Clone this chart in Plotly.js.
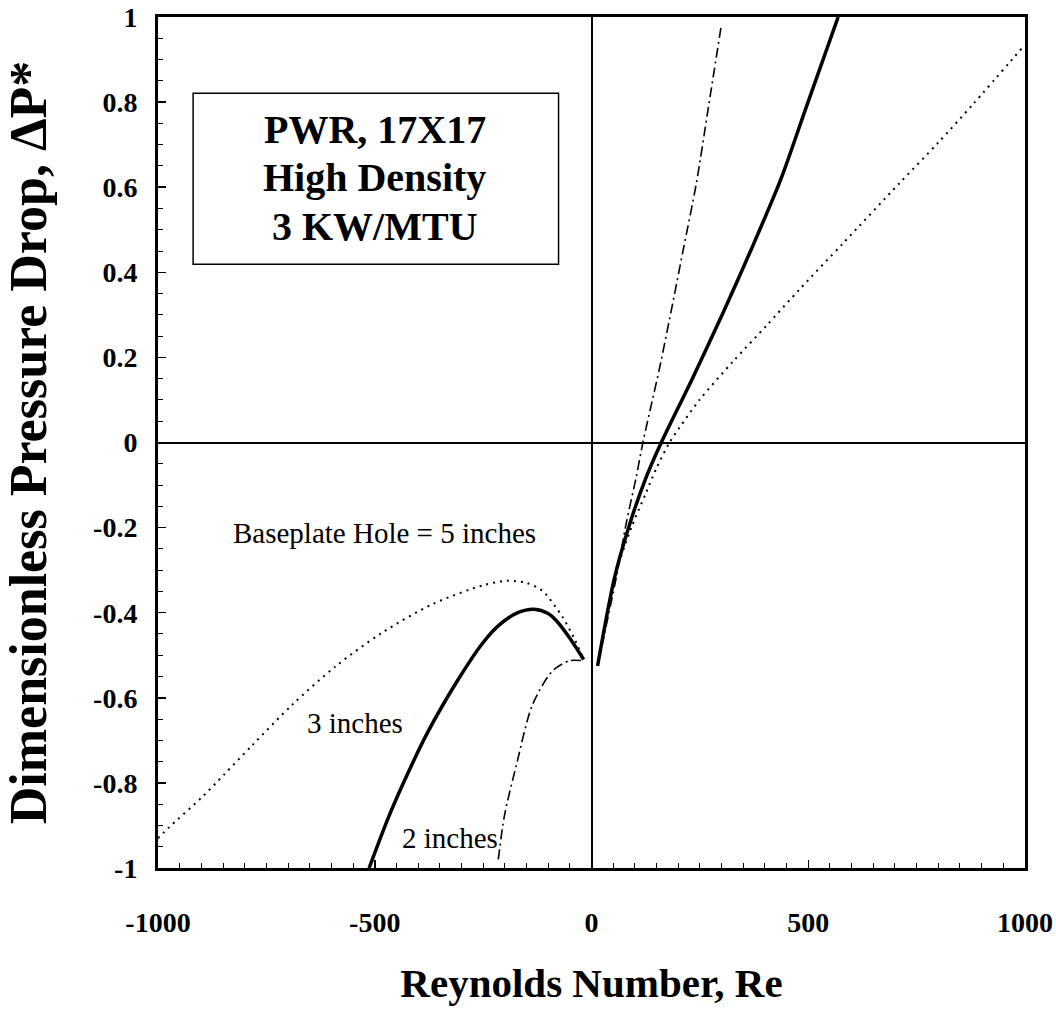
<!DOCTYPE html>
<html>
<head>
<meta charset="utf-8">
<script src="https://cdn.plot.ly/plotly-3.0.1.min.js"></script>
<style>html,body{margin:0;padding:0;background:#fff;}#chart{width:1056px;height:1028px;}</style>
</head>
<body>
<div id="chart"></div>
<script>
// ---- Data ----
// 5-inch baseplate hole (dotted)
const re5Left = [-1000, -975, -900, -866, -783, -690, -589, -483, -367, -252, -196, -150, -113, -67, -40, -18];
const dp5Left = [-0.93, -0.905, -0.835, -0.80, -0.712, -0.616, -0.525, -0.447, -0.38, -0.336, -0.325, -0.33, -0.349, -0.41, -0.46, -0.51];
const re5Right = [14, 53, 92, 125, 150, 180, 203, 249, 326, 404, 480, 580, 711, 800, 880, 1000];
const dp5Right = [-0.525, -0.318, -0.2, -0.12, -0.06, 0.0, 0.035, 0.1, 0.19, 0.275, 0.36, 0.468, 0.61, 0.705, 0.795, 0.935];

// 3-inch baseplate hole (solid)
const re3Left = [-513, -470, -436, -381, -305, -250, -212, -170, -132, -100, -81, -50, -18];
const dp3Left = [-1.0, -0.885, -0.805, -0.687, -0.553, -0.47, -0.428, -0.40, -0.392, -0.402, -0.419, -0.46, -0.51];
const re3Right = [14, 53, 88, 126, 161, 234, 303, 372, 438, 496, 569];
const dp3Right = [-0.525, -0.318, -0.192, -0.082, 0.0, 0.153, 0.304, 0.462, 0.622, 0.79, 1.0];

// 2-inch baseplate hole (dash-dot)
const re2Left = [-215, -201, -173, -136, -90, -51, -18];
const dp2Left = [-0.98, -0.878, -0.757, -0.616, -0.537, -0.513, -0.513];
const re2Right = [14, 57, 80, 103, 118.5, 135, 157, 184, 211, 242, 270, 300];
const dp2Right = [-0.525, -0.318, -0.19, -0.082, 0.0, 0.075, 0.175, 0.31, 0.45, 0.61, 0.79, 0.984];

// Axis ticks
const xTickVals = [-1000, -500, 0, 500, 1000];
const xTickText = ['-1000', '-500', '0', '500', '1000'];
const yTickVals = [-1, -0.8, -0.6, -0.4, -0.2, 0, 0.2, 0.4, 0.6, 0.8, 1];
const yTickText = ['-1', '-0.8', '-0.6', '-0.4', '-0.2', '0', '0.2', '0.4', '0.6', '0.8', '1'];

// Labels
const boxLines = ['PWR, 17X17', 'High Density', '3 KW/MTU'];
const curveLabels = ['Baseplate Hole = 5 inches', '3 inches', '2 inches'];

// ---- Styles ----
const FONT = 'Liberation Serif, Times New Roman, serif';
const dotted = {color: '#000', width: 2, dash: '2px,5px', shape: 'spline', smoothing: 0.8};
const solid = {color: '#000', width: 3.5, shape: 'spline', smoothing: 0.8};
const dashdot = {color: '#000', width: 1.6, dash: '10px,4px,2px,4px', shape: 'spline', smoothing: 0.8};

function tr(x, y, line) {
  return {x: x, y: y, type: 'scatter', mode: 'lines', line: line, hoverinfo: 'skip', showlegend: false};
}

const data = [
  tr(re5Left, dp5Left, dotted),
  tr(re5Right, dp5Right, dotted),
  tr(re2Left, dp2Left, dashdot),
  tr(re2Right, dp2Right, dashdot),
  tr(re3Left, dp3Left, solid),
  tr(re3Right, dp3Right, solid)
];

const boxFont = {family: FONT, size: 40, color: '#000', weight: 'bold'};
const labFont = {family: FONT, size: 29, color: '#000'};

const annotations = [
  {x: -500, y: 0.735, text: boxLines[0], font: boxFont},
  {x: -500, y: 0.622, text: boxLines[1], font: boxFont},
  {x: -500, y: 0.508, text: boxLines[2], font: boxFont},
  {x: -478, y: -0.212, text: curveLabels[0], font: labFont},
  {x: -545, y: -0.659, text: curveLabels[1], font: labFont},
  {x: -326, y: -0.929, text: curveLabels[2], font: labFont}
].map(a => Object.assign({xref: 'x', yref: 'y', showarrow: false, xanchor: 'center', yanchor: 'middle'}, a));

const layout = {
  width: 1056, height: 1028,
  margin: {l: 158, r: 31, t: 17, b: 160},
  paper_bgcolor: '#fff', plot_bgcolor: '#fff',
  showlegend: false,
  font: {family: FONT, color: '#000'},
  xaxis: {
    range: [-1000, 1000],
    tickmode: 'array', tickvals: xTickVals, ticktext: xTickText,
    ticks: 'inside', ticklen: 8, tickwidth: 1.5, tickcolor: '#000',
    minor: {dtick: 50, ticks: 'inside', ticklen: 5, tickwidth: 1, tickcolor: '#000', showgrid: false},
    showgrid: false,
    zeroline: true, zerolinecolor: '#000', zerolinewidth: 2,
    showline: true, linecolor: '#000', linewidth: 3, mirror: true,
    tickfont: {family: FONT, size: 28, color: '#000', weight: 'bold'},
    ticklabelstandoff: 27,
    title: {text: 'Reynolds Number, Re', font: {family: FONT, size: 41, color: '#000', weight: 'bold'}, standoff: 32},
    automargin: false
  },
  yaxis: {
    range: [-1, 1],
    tickmode: 'array', tickvals: yTickVals, ticktext: yTickText,
    ticks: 'inside', ticklen: 8, tickwidth: 1.5, tickcolor: '#000',
    minor: {dtick: 0.05, ticks: 'inside', ticklen: 5, tickwidth: 1, tickcolor: '#000', showgrid: false},
    showgrid: false,
    zeroline: true, zerolinecolor: '#000', zerolinewidth: 2,
    showline: true, linecolor: '#000', linewidth: 3, mirror: true,
    tickfont: {family: FONT, size: 28, color: '#000', weight: 'bold'},
    ticklabelstandoff: 12,
    title: {text: 'Dimensionless Pressure Drop, ΔP*', font: {family: FONT, size: 52, color: '#000', weight: 'bold'}, standoff: 38},
    automargin: false
  },
  shapes: [
    {type: 'rect', xref: 'x', yref: 'y', x0: -919, x1: -76, y0: 0.419, y1: 0.821,
     line: {color: '#000', width: 1.5}, fillcolor: 'rgba(0,0,0,0)'}
  ],
  annotations: annotations
};

Plotly.newPlot('chart', data, layout, {displayModeBar: false, staticPlot: true});
</script>
</body>
</html>
